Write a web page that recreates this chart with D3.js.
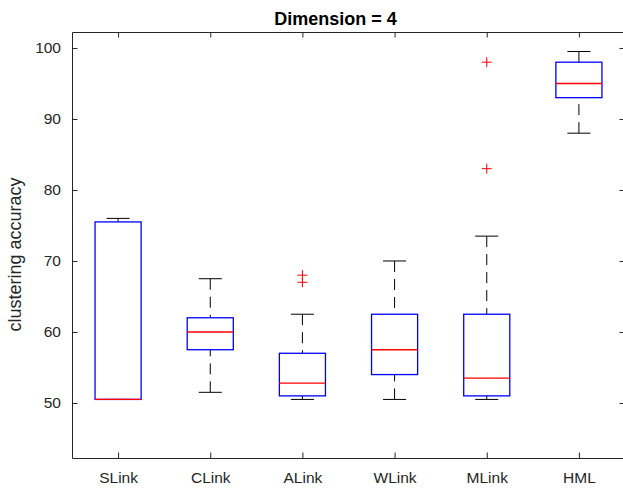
<!DOCTYPE html>
<html>
<head>
<meta charset="utf-8">
<script src="https://cdn.jsdelivr.net/npm/d3@7"></script>
<style>
  body { margin: 0; background: #fff; }
  svg { display: block; font-family: "Liberation Sans", Arial, Helvetica, sans-serif; }
</style>
</head>
<body>
<svg id="vis-container"></svg>
<script>
const WIDTH = 623
const HEIGHT = 488
const CONTAINER = d3.select("#vis-container")

// box statistics
const categories = ["SLink", "CLink", "ALink", "WLink", "MLink", "HML"]
const whiskerLow = [50.5, 51.5, 50.5, 50.5, 50.5, 88]
const q1 = [50.5, 57.5, 51, 54, 51, 93]
const median = [50.5, 60, 52.8, 57.5, 53.5, 95]
const q3 = [75.5, 62, 57, 62.5, 62.5, 98]
const whiskerHigh = [76, 67.5, 62.5, 70, 73.5, 99.5]
const outliers = [[], [], [68, 67], [], [98, 83], []]
const yTicks = [50, 60, 70, 80, 90, 100]

const AXIS_COLOR = "#262626"
const AX_LEFT = 72, AX_RIGHT = 625, AX_TOP = 32, AX_BOTTOM = 458

const x = d3.scaleLinear().domain([0.5, categories.length + 0.5]).range([AX_LEFT, AX_RIGHT])
const y = d3.scaleLinear().domain([42.25, 102.25]).range([AX_BOTTOM, AX_TOP])

const boxHalf = x(1.25) - x(1)
const capHalf = x(1.125) - x(1)

CONTAINER.attr("width", WIDTH).attr("height", HEIGHT)
CONTAINER.append("rect").attr("width", WIDTH).attr("height", HEIGHT).attr("fill", "#fff")

const stats = categories.map((name, i) => ({
    name: name, pos: i + 1,
    lo: whiskerLow[i], q1: q1[i], med: median[i], q3: q3[i], hi: whiskerHigh[i],
    out: outliers[i]
}))

// axes frame and ticks
const axes = CONTAINER.append("g").attr("id", "axes")

axes.append("g")
    .attr("transform", `translate(0,${AX_BOTTOM})`)
    .call(d3.axisBottom(x).tickValues(stats.map(d => d.pos)).tickFormat((d, i) => categories[i]).tickSizeInner(-5.5).tickSizeOuter(0).tickPadding(14))
axes.append("g")
    .attr("transform", `translate(0,${AX_TOP})`)
    .call(d3.axisTop(x).tickValues(stats.map(d => d.pos)).tickFormat("").tickSizeInner(-5.5).tickSizeOuter(0))
axes.append("g")
    .attr("transform", `translate(${AX_LEFT},0)`)
    .call(d3.axisLeft(y).tickValues(yTicks).tickSizeInner(-5.5).tickSizeOuter(0).tickPadding(11))
axes.append("g")
    .attr("transform", `translate(${AX_RIGHT},0)`)
    .call(d3.axisRight(y).tickValues(yTicks).tickFormat("").tickSizeInner(-5.5).tickSizeOuter(0))

axes.selectAll(".domain").attr("stroke", AXIS_COLOR).attr("stroke-width", 1)
axes.selectAll(".tick line").attr("stroke", AXIS_COLOR).attr("stroke-width", 1)
axes.selectAll(".tick text").attr("fill", AXIS_COLOR).style("font-size", "15.5px")

// boxes
const boxes = CONTAINER.append("g").attr("id", "boxes")
const groups = boxes.selectAll("g.box").data(stats).join("g").attr("class", "box")

groups.append("line")
    .attr("x1", d => x(d.pos)).attr("x2", d => x(d.pos))
    .attr("y1", d => y(d.hi)).attr("y2", d => y(d.q3))
    .attr("stroke", "#000").attr("stroke-dasharray", "11,7")
groups.append("line")
    .attr("x1", d => x(d.pos)).attr("x2", d => x(d.pos))
    .attr("y1", d => y(d.lo)).attr("y2", d => y(d.q1))
    .attr("stroke", "#000").attr("stroke-dasharray", "11,7")

groups.append("line")
    .attr("x1", d => x(d.pos) - capHalf).attr("x2", d => x(d.pos) + capHalf)
    .attr("y1", d => y(d.hi)).attr("y2", d => y(d.hi))
    .attr("stroke", "#000")
groups.append("line")
    .attr("x1", d => x(d.pos) - capHalf).attr("x2", d => x(d.pos) + capHalf)
    .attr("y1", d => y(d.lo)).attr("y2", d => y(d.lo))
    .attr("stroke", "#000")

groups.append("rect")
    .attr("x", d => x(d.pos) - boxHalf)
    .attr("y", d => y(d.q3))
    .attr("width", boxHalf * 2)
    .attr("height", d => y(d.q1) - y(d.q3))
    .attr("fill", "none").attr("stroke", "#0000ff").attr("stroke-width", 1.3)

groups.append("line")
    .attr("x1", d => x(d.pos) - boxHalf).attr("x2", d => x(d.pos) + boxHalf)
    .attr("y1", d => y(d.med)).attr("y2", d => y(d.med))
    .attr("stroke", "#ff0000").attr("stroke-width", 1.3)

// outliers as red plus signs
groups.each(function(d) {
    const g = d3.select(this)
    d.out.forEach(v => {
        g.append("path")
            .attr("d", `M${x(d.pos) - 5},${y(v)}h10M${x(d.pos)},${y(v) - 5}v10`)
            .attr("stroke", "#ff0000").attr("fill", "none")
    })
})

// labels
CONTAINER.append("text")
    .attr("x", 335.5).attr("y", 25)
    .attr("text-anchor", "middle")
    .style("font-size", "18px").style("font-weight", "bold")
    .attr("fill", "#000")
    .text("Dimension = 4")

CONTAINER.append("text")
    .attr("transform", "translate(21,254.5) rotate(-90)")
    .attr("text-anchor", "middle")
    .style("font-size", "18px")
    .attr("fill", AXIS_COLOR)
    .text("clustering accuracy")
</script>
</body>
</html>
